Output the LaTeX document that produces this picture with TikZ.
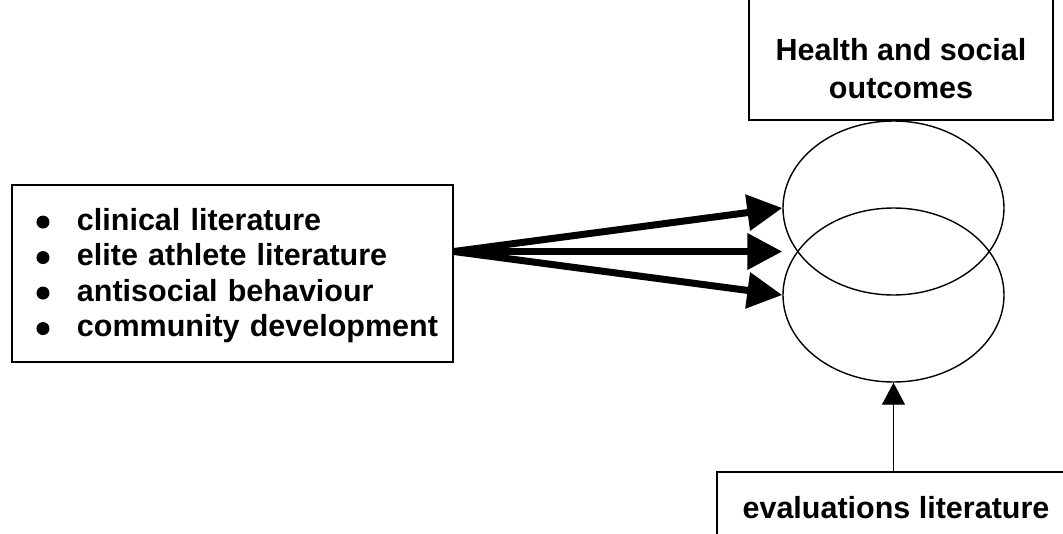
\documentclass[tikz,border=0pt]{standalone}
\usepackage{fontspec}
\setmainfont{Liberation Sans}
\usetikzlibrary{arrows.meta,shapes.geometric,positioning,calc}

\tikzset{
	litbox/.style={draw,line width=1.8pt,inner sep=0pt},
	blob/.style={draw,ellipse,line width=1.4pt,minimum width=221pt,minimum height=174pt,inner sep=0pt},
	fatarrow/.style={line width=7pt,-{Triangle[length=35pt,width=35pt]}},
	thinarrow/.style={line width=1.4pt,-{Triangle[length=22pt,width=23pt]}},
	bigtext/.style={font=\fontsize{30.5}{35.5}\selectfont\bfseries}
}
\newcommand{\bul}{\hspace*{14pt}\tikz[baseline=-0.5ex]\fill (0,0) circle (6.5pt);\hspace{27.5pt}}

\begin{document}
\begin{tikzpicture}[x=1pt,y=-1pt]
	\useasboundingbox (0,0) rectangle (1063,533);
	% literature boxes
	\node[litbox,bigtext,minimum width=441pt,minimum height=177pt,text width=420pt,align=left] (lits) at (232.5,273.5)
	{\bul clinical literature\\
	 \bul elite athlete literature\\
	 \bul antisocial behaviour\\
	 \bul community development\vspace*{-4pt}};
	\node[litbox,minimum width=304pt,minimum height=133pt] (health) at (901,53.5) {};
	\node[bigtext,align=center,font=\fontsize{30.5}{38}\selectfont\bfseries] (healthtxt) at (901,69) {Health and social\\outcomes};
	\node[litbox,bigtext,minimum width=358pt,minimum height=72pt] (evals) at (896,508) {evaluations literature};
	% overlapping outcomes
	\node[blob] (outA) at (893.5,208) {};
	\node[blob] (outB) at (893.5,295) {};
	\coordinate (mid) at ($(outA.west)!0.5!(outB.west)$);
	\coordinate (src) at (lits.east |- mid);
	\draw[fatarrow] (src) -- (outA.west);
	\draw[fatarrow] (src) -- (mid);
	\draw[fatarrow] (src) -- (outB.west);
	\draw[thinarrow] (outB.south |- evals.north) -- (outB.south);
\end{tikzpicture}
\end{document}
